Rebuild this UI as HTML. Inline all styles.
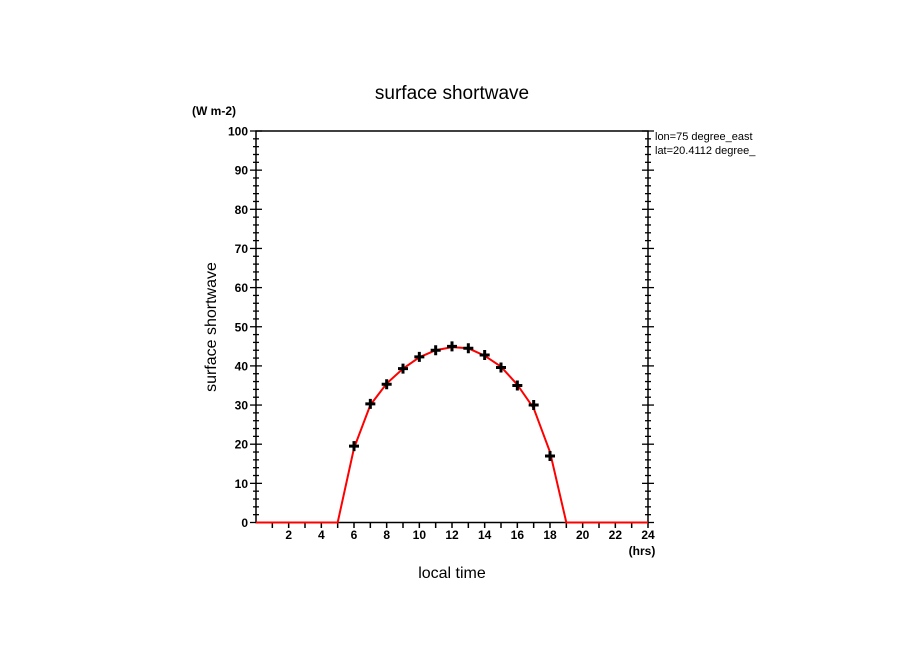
<!DOCTYPE html>
<html><head><meta charset="utf-8"><style>
body{margin:0;background:#fff;}
svg text{font-family:"Liberation Sans",sans-serif;font-weight:bold;fill:#000;}
</style></head><body>
<svg id="c" width="904" height="654" xmlns="http://www.w3.org/2000/svg">
<text x="452" y="99" font-size="19" font-weight="normal" text-anchor="middle" style="font-weight:normal">surface shortwave</text>
<text x="192" y="115" font-size="12">(W m-2)</text>
<text x="655" y="140" font-size="11" style="font-weight:normal">lon=75 degree_east</text>
<text x="655" y="154" font-size="11" style="font-weight:normal">lat=20.4112 degree_</text>
<text x="452" y="578" font-size="16" text-anchor="middle" style="font-weight:normal">local time</text>
<text x="642" y="555" font-size="12" text-anchor="middle">(hrs)</text>
<text transform="translate(216,327) rotate(-90)" font-size="16" text-anchor="middle" style="font-weight:normal">surface shortwave</text>
<rect x="256" y="131" width="392" height="391.5" fill="none" stroke="#000" stroke-width="1.5"/>
<g id="ax"></g><g id="marks"></g>
</svg>
<script>
const hours=[6,7,8,9,10,11,12,13,14,15,16,17,18];
const values=[19.5,30.3,35.3,39.3,42.3,44,45,44.5,42.8,39.6,35,30,17];
const lineHours=[0,1,2,3,4,5,6,7,8,9,10,11,12,13,14,15,16,17,18,19,20,21,22,23,24];
const lineValues=[0,0,0,0,0,0,19,30,35.5,39.3,42.2,44,44.8,44.5,42.6,39.8,35.2,29.2,18,0,0,0,0,0,0];
const xTicks=[2,4,6,8,10,12,14,16,18,20,22,24];
const yTicks=[0,10,20,30,40,50,60,70,80,90,100];
const X=h=>256+h*(392/24), Y=v=>522.5-v*3.915;
const NS='http://www.w3.org/2000/svg';
const ax=document.getElementById('ax'), mk=document.getElementById('marks');
function el(t,a,p){const e=document.createElementNS(NS,t);for(const k in a)e.setAttribute(k,a[k]);p.appendChild(e);return e;}
for(let h=1;h<=24;h++){const l=el('line',{x1:X(h),x2:X(h),y1:522,y2:528,stroke:'#000','stroke-width':1.5},ax);

}
xTicks.forEach(h=>{const t=el('text',{x:X(h),y:539,'font-size':12,'text-anchor':'middle'},ax);t.textContent=h;

});
for(let v=0;v<=100;v+=2){const big=v%10==0;
const l=el('line',{x1:big?250:253,x2:big?262:259,y1:Y(v),y2:Y(v),stroke:'#000','stroke-width':1.3},ax);


const r=el('line',{x1:big?642:645,x2:big?654:651,y1:Y(v),y2:Y(v),stroke:'#000','stroke-width':1.3},ax);

}
yTicks.forEach(v=>{const t=el('text',{x:248,y:Y(v)+4.5,'font-size':12,'text-anchor':'end'},ax);t.textContent=v;

});
const pl=el('polyline',{points:lineHours.map((h,i)=>X(h)+','+Y(lineValues[i])).join(' '),fill:'none',stroke:'#f00','stroke-width':2},mk);


hours.forEach((h,i)=>{const x=X(h),y=Y(values[i]);
const p=el('path',{d:`M${x-5},${y}H${x+5}M${x},${y-5}V${y+5}`,stroke:'#000','stroke-width':3},mk);

});
</script>
</body></html>
